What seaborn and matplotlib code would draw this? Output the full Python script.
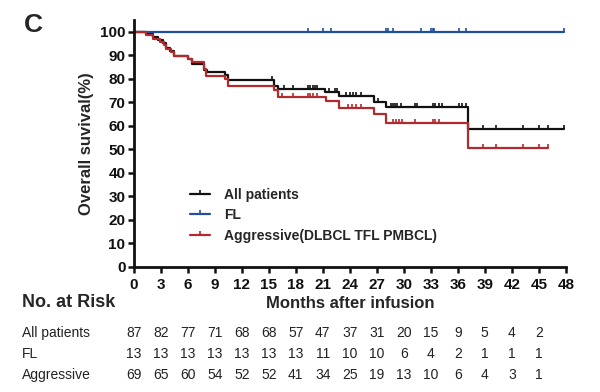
import numpy as np
import pandas as pd
import matplotlib
matplotlib.use("Agg")
import matplotlib.pyplot as plt
import matplotlib.transforms as mtransforms
from matplotlib.lines import Line2D
import seaborn as sns

# ---------------- data ----------------
all_t = [0, 1.3, 2.1, 2.7, 3.2, 3.6, 4.0, 4.5, 6.0, 6.5, 7.8, 8.1, 10.1, 10.5, 15.6, 16.0, 21.2, 22.8, 26.7, 28.0, 37.1, 47.8]
all_s = [100, 98.9, 97.7, 96.6, 95.4, 93.1, 92.0, 89.7, 88.5, 86.2, 83.9, 82.8, 81.6, 79.3, 77.0, 75.6, 74.4, 72.8, 70.2, 67.8, 58.5, 58.5]
all_c = [15.4, 16.7, 17.7, 19.3, 19.6, 19.9, 20.1, 20.4, 21.7, 22.3, 22.6, 23.6, 24.0, 24.3, 24.7, 25.2,
         27.1, 28.6, 28.8, 29.0, 29.3, 29.7, 31.2, 31.5, 33.2, 33.5, 33.9, 34.3, 36.1, 36.5, 36.9,
         38.8, 40.3, 43.3, 45.0, 46.0, 47.8]

fl_t = [0, 47.8]
fl_s = [100, 100]
fl_c = [19.4, 21.0, 21.9, 28.0, 28.2, 28.8, 31.9, 33.0, 33.2, 33.4, 36.1, 36.9, 47.8]

agg_t = [0, 1.3, 2.1, 2.9, 3.4, 3.6, 4.1, 4.5, 6.0, 6.5, 7.8, 8.0, 10.1, 10.5, 15.6, 16.0, 21.3, 22.8, 26.7, 28.0, 37.1, 46.0]
agg_s = [100, 98.6, 97.1, 95.7, 94.2, 92.8, 91.3, 89.9, 88.4, 87.0, 84.1, 81.2, 79.7, 76.8, 75.4, 72.1, 70.7, 67.6, 65.0, 61.4, 50.7, 50.7]
agg_c = [16.5, 17.7, 19.3, 19.6, 19.9, 20.3, 23.8, 24.2, 24.7, 25.2, 28.8, 29.1, 29.5, 29.8, 31.2,
         33.2, 33.5, 33.9, 38.8, 40.3, 43.3, 45.0, 46.0]

risk_times = [0, 3, 6, 9, 12, 15, 18, 21, 24, 27, 30, 33, 36, 39, 42, 45]
risk_all = [87, 82, 77, 71, 68, 68, 57, 47, 37, 31, 20, 15, 9, 5, 4, 2]
risk_fl = [13, 13, 13, 13, 13, 13, 13, 11, 10, 10, 6, 4, 2, 1, 1, 1]
risk_agg = [69, 65, 60, 54, 52, 52, 41, 34, 25, 19, 13, 10, 6, 4, 3, 1]

group_names = ["All patients", "FL", "Aggressive(DLBCL TFL PMBCL)"]
risk_labels = ["All patients", "FL", "Aggressive"]
colors = ["#111111", "#1f4f9c", "#b02a2e"]

# ---------------- style ----------------
sns.set_theme(style="ticks")
plt.rcParams["font.family"] = ["Liberation Sans", "DejaVu Sans"]

fig = plt.figure(figsize=(6.0, 3.92), dpi=100)
ax = fig.add_axes([0.223, 0.319, 0.72, 0.63])

def surv_at(t_arr, s_arr, c):
    idx = np.searchsorted(np.asarray(t_arr), c, side="right") - 1
    return np.asarray(s_arr)[idx]

curves = [(all_t, all_s, all_c), (fl_t, fl_s, fl_c), (agg_t, agg_s, agg_c)]
handles = []
for (t, s, c), name, col in zip(curves, group_names, colors):
    df = pd.DataFrame({"t": t, "s": s})
    sns.lineplot(data=df, x="t", y="s", ax=ax, drawstyle="steps-post", color=col,
                 linewidth=1.6, estimator=None, sort=False)
    ax.plot(c, surv_at(t, s, c), ls="none", marker=2, markersize=3.2, mew=1.2, color=col)
    handles.append(Line2D([0], [0], color=col, lw=1.6, marker=2, markersize=3.2, mew=1.2))

ax.set_xlim(0, 48)
ax.set_ylim(0, 105)
ax.set_xticks(np.arange(0, 49, 3))
ax.set_yticks(np.arange(0, 101, 10))
ax.spines["top"].set_visible(False)
ax.spines["right"].set_visible(False)
for sp in ["left", "bottom"]:
    ax.spines[sp].set_linewidth(2)
    ax.spines[sp].set_color("#111111")
ax.tick_params(width=1.8, length=4, color="#111111")
for lab in ax.get_xticklabels() + ax.get_yticklabels():
    lab.set_fontweight("bold")
    lab.set_fontsize(11)
    lab.set_color("#111111")
ax.tick_params(axis="x", pad=4)
ax.tick_params(axis="y", pad=2)

ax.set_xlabel("Months after infusion", fontsize=12, fontweight="bold", labelpad=3)
ax.set_ylabel("Overall suvival(%)", fontsize=12, fontweight="bold", labelpad=4)

leg = ax.legend(handles, group_names, loc="upper left", bbox_to_anchor=(0.1, 0.37),
                frameon=False, prop={"weight": "bold", "size": 10}, handlelength=1.5,
                labelspacing=0.45, handletextpad=1.0)

fig.text(0.04, 0.935, "C", fontsize=19, fontweight="bold", va="center", ha="left")

# risk table
fig.text(0.036, 0.228, "No. at Risk", fontsize=13, fontweight="bold", va="center", ha="left")
trans = mtransforms.blended_transform_factory(ax.transData, fig.transFigure)
row_y = [0.150, 0.097, 0.044]
for vals, lab, y in zip([risk_all, risk_fl, risk_agg], risk_labels, row_y):
    fig.text(0.036, y, lab, fontsize=10, va="center", ha="left", color="#222222")
    for tt, v in zip(risk_times, vals):
        ax.text(tt, y, str(v), transform=trans, fontsize=10, va="center", ha="center",
                color="#222222", clip_on=False)

fig.savefig("out.png", dpi=100)
